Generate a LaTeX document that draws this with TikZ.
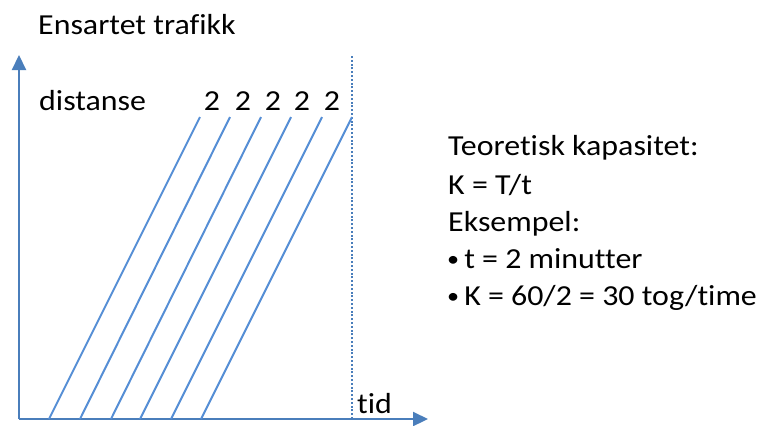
\documentclass[tikz,border=0pt]{standalone}
\usepackage{fontspec}
\setmainfont[Ligatures={NoCommon}, FakeStretch=1.1]{Carlito}
\usetikzlibrary{arrows.meta}
\definecolor{axisblue}{RGB}{74,126,187}
\definecolor{trainblue}{RGB}{85,142,213}
\newcommand{\smallbullet}{{\fontsize{22bp}{22bp}\selectfont\raisebox{1.5bp}{•}}\hspace{5bp}}
\tikzset{
  axis/.style={draw=axisblue, line width=2.2bp, -{Triangle[length=15bp,width=14bp]}},
  train/.style={draw=trainblue, line width=2bp},
  horizon/.style={draw=axisblue, line width=2.6bp, dash pattern=on 2bp off 1.8bp},
  lbl/.style={inner sep=0pt, anchor=base west, font=\fontsize{29bp}{35bp}\selectfont},
  num/.style={inner sep=0pt, anchor=base, font=\fontsize{29bp}{35bp}\selectfont},
  txt/.style={inner sep=0pt, anchor=base west, font=\fontsize{29bp}{35bp}\selectfont}
}
\begin{document}
\begin{tikzpicture}[x=1bp, y=-1bp]
\useasboundingbox (0,0) rectangle (762,425);
% axes
\coordinate (o) at (19,419);
\coordinate (ytop) at (19,55);
\coordinate (xend) at (428,419);
\draw[axis] (o) -- (ytop);
\draw[axis] (o) -- (xend);
% end of the period
\coordinate (pb) at (352,419);
\coordinate (pt) at (352,56);
\draw[horizon] (pb) -- (pt);
% train paths
\foreach \i/\xb/\xt in {1/49/200, 2/80/230, 3/111/261, 4/140/291, 5/171/322, 6/201/352}{
  \coordinate (b\i) at (\xb,419);
  \coordinate (t\i) at (\xt,117);
  \draw[train] (b\i) -- (t\i);
}
% labels
\node[lbl] (title) at (38,34) {Ensartet trafikk};
\node[lbl] (dist) at (39,110) {distanse};
\node[lbl] (tid) at (357,413) {tid};
\foreach \i/\x in {1/212,2/243,3/273,4/302,5/332}{
  \node[num] (h\i) at (\x,110) {2};
}
% capacity text
\node[txt] (c1) at (448,155) {Teoretisk kapasitet:};
\node[txt] (c2) at (448,194) {K = T/t};
\node[txt] (c3) at (448,231) {Eksempel:};
\node[txt] (c4) at (447,268) {\smallbullet t = 2 minutter};
\node[txt] (c5) at (447,305) {\smallbullet K = 60/2 = 30 tog/time};
\end{tikzpicture}
\end{document}
